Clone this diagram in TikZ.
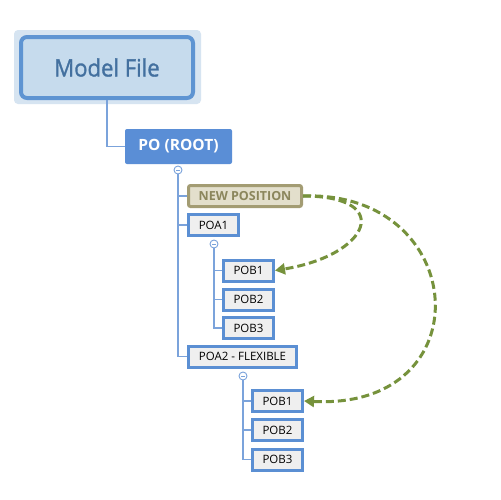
\documentclass[tikz,border=0pt]{standalone}
\usepackage{fontspec}
\setmainfont{Open Sans}
\newfontfamily\mffont[FakeBold=1.2,FakeStretch=0.92]{Open Sans}
\usetikzlibrary{arrows.meta}
\definecolor{mfFill}{HTML}{C6DBED}
\definecolor{mfBorder}{HTML}{5E94D2}
\definecolor{mfHalo}{HTML}{D6E4F1}
\definecolor{mfText}{HTML}{43709F}
\definecolor{rootFill}{HTML}{5A8ED6}
\definecolor{boxFill}{HTML}{EFEFEF}
\definecolor{boxBorder}{HTML}{5B8FD3}
\definecolor{npFill}{HTML}{E3DFCC}
\definecolor{npBorder}{HTML}{A39C73}
\definecolor{npText}{HTML}{8B865C}
\definecolor{treeLine}{HTML}{7BA3DB}
\definecolor{arrowCol}{HTML}{76923C}
\tikzset{
  tbox/.style={draw=boxBorder, line width=3pt, fill=boxFill, inner sep=0pt, minimum height=21pt, font=\fontsize{11.5}{14}\selectfont, text=black},
  npbox/.style={draw=npBorder, line width=3pt, fill=npFill, rounded corners=2pt, inner sep=0pt, minimum height=21pt, minimum width=113pt, font=\fontsize{12.5}{14}\selectfont\bfseries, text=npText},
  tline/.style={draw=treeLine, line width=1.2pt},
  collapse/.style={circle, draw=treeLine, fill=white, line width=0.9pt, minimum size=8pt, inner sep=0pt},
  moveto/.style={draw=arrowCol, line width=3pt, dash pattern=on 8pt off 4pt, -{Triangle[length=10pt,width=11pt]}}
}
\newcommand{\minusmark}[1]{\draw[treeLine, line width=0.8pt] ([xshift=-2pt]#1.center) -- ([xshift=2pt]#1.center);}
\begin{document}
\begin{tikzpicture}[x=1pt,y=-1pt]
\useasboundingbox (0,0) rectangle (501,499);
\fill[white] (0,0) rectangle (501,499);
% Model File
\fill[mfHalo, rounded corners=4pt] (14,30) rectangle (201,104);
\node[draw=mfBorder, line width=4pt, fill=mfFill, rounded corners=6pt, minimum width=172pt, minimum height=61pt, inner sep=0pt, font=\mffont\fontsize{24}{28}\selectfont, text=mfText] (mf) at (107,67.5) {Model File};
% root
\node[fill=rootFill, rounded corners=2pt, minimum width=107pt, minimum height=35pt, inner sep=0pt, text=white, font=\fontsize{15.5}{18}\selectfont\bfseries] (root) at (178.5,146.5) {PO (ROOT)};
\draw[tline] (mf.south) |- (root.west);
% level 1
\node[npbox] (np) at (245,196) {NEW POSITION};
\node[tbox, minimum width=50pt] (poa1) at (213.5,225) {POA1};
\node[tbox, minimum width=108pt] (poa2) at (242.5,356.5) {POA2 - FLEXIBLE};
\node[collapse] (c1) at (178,170) {};
\draw[tline] (c1.south) |- (poa2.west);
\draw[tline] (c1 |- np.west) -- (np.west);
\draw[tline] (c1 |- poa1.west) -- (poa1.west);
\minusmark{c1}
% POA1 children
\node[tbox, minimum width=50pt] (pa1) at (248.5,270.5) {POB1};
\node[tbox, minimum width=50pt] (pa2) at (248.5,299.5) {POB2};
\node[tbox, minimum width=50pt] (pa3) at (248.5,328) {POB3};
\node[collapse] (c2) at (214,244) {};
\draw[tline] (c2.south) |- (pa3.west);
\draw[tline] (c2 |- pa1.west) -- (pa1.west);
\draw[tline] (c2 |- pa2.west) -- (pa2.west);
\minusmark{c2}
% POA2 children
\node[tbox, minimum width=50pt] (pb1) at (277.5,401) {POB1};
\node[tbox, minimum width=50pt] (pb2) at (277.5,430) {POB2};
\node[tbox, minimum width=50pt] (pb3) at (277.5,459.5) {POB3};
\node[collapse] (c3) at (243,376) {};
\draw[tline] (c3.south) |- (pb3.west);
\draw[tline] (c3 |- pb1.west) -- (pb1.west);
\draw[tline] (c3 |- pb2.west) -- (pb2.west);
\minusmark{c3}
% dashed arrows
\draw[moveto] (np.east) .. controls (395,196) and (370,255) .. (pa1.east);
\draw[moveto] (np.east) .. controls (470,190) and (485,410) .. (pb1.east);
\end{tikzpicture}
\end{document}
